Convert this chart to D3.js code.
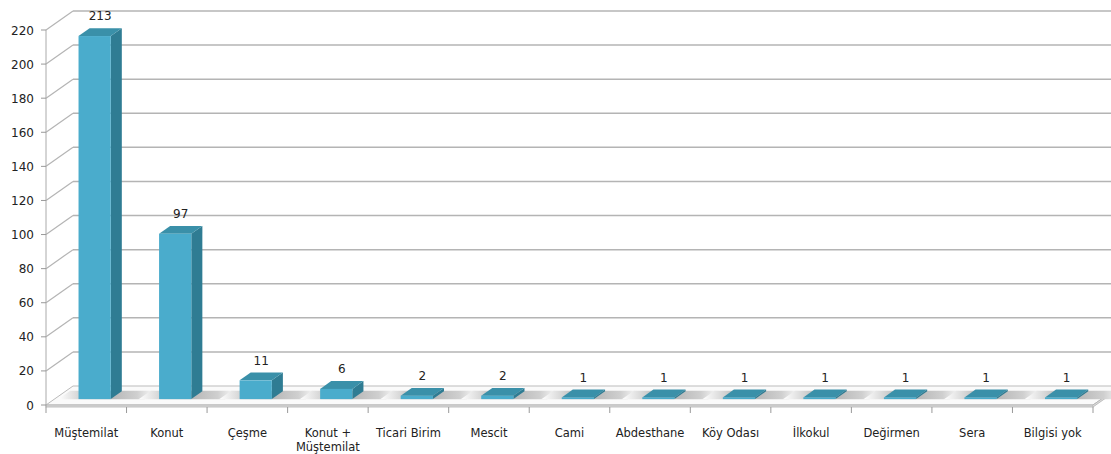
<!DOCTYPE html>
<html>
<head>
<meta charset="utf-8">
<script src="https://cdn.jsdelivr.net/npm/d3@7"></script>
<style>
  body { margin: 0; background: #fff; }
  text { font-family: "DejaVu Sans", Verdana, sans-serif; fill: #222; }
</style>
</head>
<body>
<svg id="chart" width="1111" height="454"></svg>
<script>
const categories = ["Müştemilat", "Konut", "Çeşme", "Konut +\nMüştemilat", "Ticari Birim", "Mescit", "Cami",
                    "Abdesthane", "Köy Odası", "İlkokul", "Değirmen", "Sera", "Bilgisi yok"]
const values = [213, 97, 11, 6, 2, 2, 1, 1, 1, 1, 1, 1, 1]
const yTicks = [0, 20, 40, 60, 80, 100, 120, 140, 160, 180, 200, 220]

const svg = d3.select('#chart')
const W = 1111
const left = 46, right = 1093, floorY = 405
const depthX = 27, depthY = -19

let x = d3.scaleBand().domain(categories).range([left, right])
let y = d3.scaleLinear().domain([0, 220]).range([floorY, 30])

let defs = svg.append('defs')
let shadow = defs.append('linearGradient').attr('id', 'shadow')
shadow.append('stop').attr('offset', '0%').attr('stop-color', '#fff')
shadow.append('stop').attr('offset', '30%').attr('stop-color', '#c4c4c4')
shadow.append('stop').attr('offset', '55%').attr('stop-color', '#b8b8b8')
shadow.append('stop').attr('offset', '80%').attr('stop-color', '#cfcfcf')
shadow.append('stop').attr('offset', '100%').attr('stop-color', '#fff')

// back wall grid
let grid = svg.append('g')
yTicks.forEach(function(t) {
    if (t === 0) return
    grid.append('line')
        .attr('x1', left + depthX).attr('x2', W)
        .attr('y1', y(t) + depthY).attr('y2', y(t) + depthY)
        .attr('stroke', '#b4b4b4').attr('stroke-width', 1.5)
    grid.append('line')
        .attr('x1', left).attr('x2', left + depthX)
        .attr('y1', y(t)).attr('y2', y(t) + depthY)
        .attr('stroke', '#b4b4b4').attr('stroke-width', 1.2)
})

// floor
let floor = svg.append('g')
floor.append('path')
    .attr('d', `M${left},${floorY} L${left + depthX},${floorY + depthY} L${right + depthX},${floorY + depthY} L${right},${floorY} Z`)
    .attr('fill', '#fafafa').attr('stroke', '#bbb').attr('stroke-width', 1)
floor.append('rect')
    .attr('x', left).attr('y', floorY).attr('width', right - left).attr('height', 2)
    .attr('fill', '#ddd').attr('stroke', '#b0b0b0').attr('stroke-width', 0.8)
floor.append('path')
    .attr('d', `M${right},${floorY + 2} L${right + depthX},${floorY + depthY + 2} L${right + depthX},${floorY + depthY} L${right},${floorY}`)
    .attr('fill', '#ddd').attr('stroke', '#b0b0b0').attr('stroke-width', 0.8)

// shadows on the floor
categories.forEach(function(c) {
    let x0 = x(c) + 4, x1 = x(c) + x.bandwidth() + 10
    let d0 = 0.3, d1 = 0.75
    floor.append('path')
        .attr('d', `M${x0 + depthX * d0},${floorY + depthY * d0} L${x0 + depthX * d1},${floorY + depthY * d1} L${x1 + depthX * d1},${floorY + depthY * d1} L${x1 + depthX * d0},${floorY + depthY * d0} Z`)
        .attr('fill', 'url(#shadow)')
})

// axis
let axis = svg.append('g')
axis.append('line')
    .attr('x1', left).attr('x2', left).attr('y1', y(220)).attr('y2', floorY + 2)
    .attr('stroke', '#aaa')
yTicks.forEach(function(t) {
    axis.append('line')
        .attr('x1', left - 5).attr('x2', left).attr('y1', y(t)).attr('y2', y(t))
        .attr('stroke', '#999')
    axis.append('text')
        .attr('x', 34).attr('y', y(t) + 4.5)
        .attr('text-anchor', 'end').attr('font-size', '12px')
        .text(t)
})
x.domain().concat([null]).forEach(function(c) {
    let xx = c === null ? right : x(c)
    axis.append('line')
        .attr('x1', xx).attr('x2', xx).attr('y1', floorY + 2).attr('y2', floorY + 8)
        .attr('stroke', '#999')
})
categories.forEach(function(c) {
    let lines = c.split('\n')
    let t = axis.append('text')
        .attr('x', x(c) + x.bandwidth() / 2).attr('y', 437)
        .attr('text-anchor', 'middle').attr('font-size', '11.5px')
    lines.forEach(function(l, i) {
        t.append('tspan').attr('x', x(c) + x.bandwidth() / 2).attr('dy', i === 0 ? 0 : 14).text(l)
    })
})

// bars
let bars = svg.append('g')
let bw = x.bandwidth() * 0.4
let bd = 0.41, bStart = 0.31
categories.forEach(function(c, i) {
    let v = values[i]
    let fx = x(c) + x.bandwidth() / 2 - bw / 2 + depthX * bStart
    let fy = depthY * bStart
    let ddx = depthX * bd, ddy = depthY * bd
    let top = y(v) + fy, bot = floorY + fy
    let g = bars.append('g')
    // side
    g.append('path')
        .attr('d', `M${fx + bw},${bot} L${fx + bw + ddx},${bot + ddy} L${fx + bw + ddx},${top + ddy} L${fx + bw},${top} Z`)
        .attr('fill', '#2f7c93')
    // top
    g.append('path')
        .attr('d', `M${fx},${top} L${fx + ddx},${top + ddy} L${fx + bw + ddx},${top + ddy} L${fx + bw},${top} Z`)
        .attr('fill', '#3a90a9')
    // front
    g.append('rect')
        .attr('x', fx).attr('y', top).attr('width', bw).attr('height', bot - top)
        .attr('fill', '#4aaccc')
    g.append('text')
        .attr('x', fx + bw / 2 + ddx / 2).attr('y', top + ddy - 8)
        .attr('text-anchor', 'middle').attr('font-size', '12px')
        .text(v)
})
</script>
</body>
</html>
